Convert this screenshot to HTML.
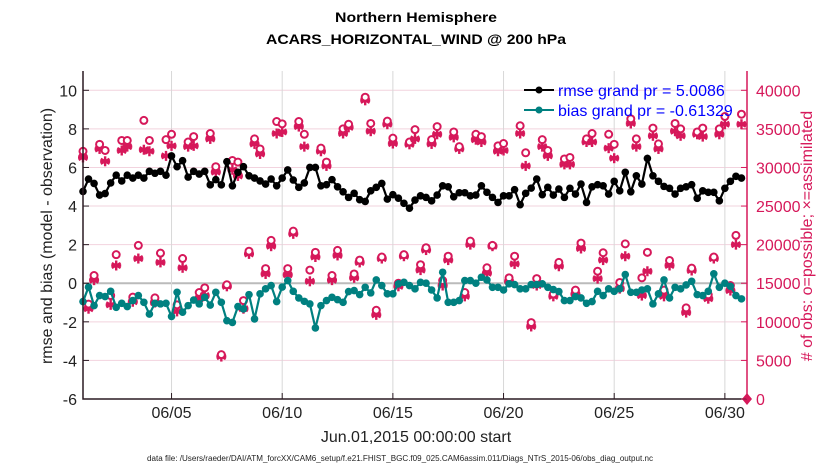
<!DOCTYPE html>
<html><head><meta charset="utf-8"><style>
body{margin:0;background:#fff}
svg{display:block;font-family:"Liberation Sans",sans-serif}
</style></head><body>
<svg id="chart" width="830" height="470" viewBox="0 0 830 470" xmlns="http://www.w3.org/2000/svg">
<g id="grid"></g>
<g id="marks"></g>
<g id="axes"></g>
<text x="416" y="22" text-anchor="middle" font-size="14" font-weight="bold" textLength="162" lengthAdjust="spacingAndGlyphs">Northern Hemisphere</text>
<text x="416" y="44" text-anchor="middle" font-size="14" font-weight="bold" textLength="300" lengthAdjust="spacingAndGlyphs">ACARS_HORIZONTAL_WIND @ 200 hPa</text>
<text x="416" y="442" text-anchor="middle" font-size="16" fill="#222">Jun.01,2015 00:00:00 start</text>
<text x="400" y="461" text-anchor="middle" font-size="8" fill="#222" textLength="506" lengthAdjust="spacingAndGlyphs">data file: /Users/raeder/DAI/ATM_forcXX/CAM6_setup/f.e21.FHIST_BGC.f09_025.CAM6assim.011/Diags_NTrS_2015-06/obs_diag_output.nc</text>
<text transform="translate(52,236) rotate(-90)" text-anchor="middle" font-size="16" fill="#222">rmse and bias (model - observation)</text>
<text transform="translate(812,236) rotate(-90)" text-anchor="middle" font-size="16" fill="#d6185a">#  of obs: o=possible; ×=assimilated</text>
<g>
<line x1="524" y1="90" x2="554" y2="90" stroke="#000" stroke-width="2"/><circle cx="539" cy="90" r="3.5" fill="#000"/>
<text x="558" y="96" font-size="16" fill="#0000ff">rmse grand pr = 5.0086</text>
<line x1="524" y1="110" x2="554" y2="110" stroke="#008080" stroke-width="2"/><circle cx="539" cy="110" r="3.5" fill="#008080"/>
<text x="558" y="116" font-size="16" fill="#0000ff">bias grand pr = -0.61329</text>
</g>
</svg>
<script>
const rmse=[4.76,5.4,5.17,4.57,4.65,5.2,5.6,5.3,5.6,5.45,5.6,5.45,5.8,5.7,5.8,5.6,6.6,6.04,6.35,5.5,5.8,5.66,5.8,5.1,5.37,5.1,6.3,5.05,5.75,6.04,5.57,5.45,5.3,5.14,5.4,5.05,5.45,5.87,5.35,4.97,5.2,6.0,6.0,
5.05,5.11,5.37,5.0,4.74,4.45,4.66,4.33,4.24,4.79,4.97,5.17,4.36,4.59,4.41,4.14,3.89,4.31,4.53,4.45,4.27,4.57,5.05,5.0,4.48,4.69,4.69,4.53,4.57,5.05,4.71,4.45,4.19,4.53,4.53,4.85,4.07,4.66,4.93,5.4,4.59,4.97,
4.57,4.88,4.45,4.92,4.62,5.14,4.19,5.0,5.11,5.05,4.62,5.28,4.79,5.75,4.74,5.57,5.14,6.47,5.57,5.28,5.02,4.92,4.62,4.92,5.0,5.11,4.4,4.79,4.71,4.71,4.27,4.92,5.28,5.54,5.45];
const bias=[-0.95,-0.2,-1.16,-0.64,-0.69,-0.42,-1.25,-1.04,-1.21,-0.9,-0.64,-0.99,-1.6,-1.04,-1.07,-1.04,-1.72,-0.47,-1.5,-1.16,-0.87,-1.07,-0.73,-1.13,-0.47,-0.99,-1.94,-2.03,-1.21,-1.33,-0.59,-1.85,-0.55,-0.29,-0.12,-0.95,-0.2,0.14,-0.42,-0.76,-0.94,-1.07,-2.32,
-1.16,-0.9,-0.73,-0.85,-0.99,-0.43,-0.38,-0.59,-0.21,-0.5,0.17,-0.12,-0.55,-0.55,-0.03,0.05,-0.12,-0.29,0.05,0,-0.35,-0.76,0.57,-0.99,-0.99,-0.9,0.14,0.14,0,0.31,0.17,-0.21,-0.21,-0.35,-0.03,-0.07,-0.29,-0.29,-0.07,-0.07,-0.03,-0.21,
-0.33,-0.43,-0.9,-0.9,-0.69,-0.76,-1.04,-0.95,-0.42,-0.64,-0.29,-0.42,-0.29,0.45,-0.47,-0.47,-0.35,-0.29,-1.07,-0.55,0.17,-0.76,-0.21,-0.29,-0.09,0.1,-0.59,-0.64,-0.42,0.49,-0.21,0,-0.16,-0.64,-0.81];
const possible=[32100,12300,16000,33000,32200,13400,18700,33500,33500,13200,19900,36100,33500,13100,18900,33600,34300,12200,18200,33300,34000,13800,14400,34400,30100,5750,14800,30900,30700,12750,19150,33700,32400,16900,20550,35950,35650,16900,21750,35950,34300,16700,19000,32500,30700,16000,19250,35000,35600,16200,18000,39100,35700,11500,18400,36000,33800,15000,18700,33300,34900,17400,19600,33600,35300,15350,18500,34600,32700,13800,20450,34300,34000,17000,19900,32800,33100,15700,18500,35400,31900,9900,15600,33600,32200,13600,17700,31100,31300,14100,20200,33700,34400,16550,18950,34300,33000,15100,20100,36300,33700,15700,19000,35100,33050,14100,17950,35700,35000,11800,16950,34600,35100,13500,18400,35000,36600,14700,21200,36900];
const assimilated=[31300,11700,15400,32400,30800,12200,17300,32200,32700,12600,18200,32300,32100,12500,17700,31500,32800,11350,17000,32700,32800,13000,13400,33700,29400,5500,14600,29700,28900,11700,18800,33050,31750,16200,19800,34400,34600,16100,21400,35300,32700,15250,18400,32100,30200,15400,18600,34400,35200,15700,17700,38700,34700,10900,18200,35600,33100,14600,18500,33000,33700,16700,19300,33050,34300,14700,18000,33900,32400,13300,20000,33600,33300,16300,19800,32100,32200,15250,17500,34400,30200,9400,14700,32700,31500,13300,17200,30400,30400,13600,19500,33300,33300,15600,18000,32500,31200,14300,18500,35700,32700,13400,16550,34100,32400,13300,17300,34700,34100,11200,16650,34300,34000,13000,18200,34300,35600,14050,20000,35600];
const leftTicks=[-6,-4,-2,0,2,4,6,8,10];
const rightTicks=[0,5000,10000,15000,20000,25000,30000,35000,40000];
const xTickDays=[4,9,14,19,24,29];
const xTickLabels=["06/05","06/10","06/15","06/20","06/25","06/30"];
const stepDays=0.25;

const L=83,R=747,T=71,B=399;
const X=d=>L+(d/30)*(R-L);
const Y=v=>B-(v+6)/17*(B-T);
const YR=c=>B-(c/42500)*(B-T);
const NS="http://www.w3.org/2000/svg";
function mk(tag,parent,attrs){const e=document.createElementNS(NS,tag);for(const k in attrs)e.setAttribute(k,attrs[k]);parent.appendChild(e);return e;}
const grid=document.getElementById('grid'),marks=document.getElementById('marks'),axes=document.getElementById('axes');
const CR="#d6185a";

leftTicks.forEach(v=>{if(v>-6){const g=mk('line',grid,{x1:L,x2:R,y1:Y(v),y2:Y(v),stroke:v===0?"#bbb":"#f2d3de","stroke-width":v===0?2:1});

}});
xTickDays.forEach(d=>{const g=mk('line',grid,{x1:X(d),x2:X(d),y1:T,y2:B,stroke:"#d8d8d8","stroke-width":1});

});

function star(cx,cy,parent){const s=5,g=mk('g',parent,{stroke:CR,"stroke-width":2.4});
[[0,s],[s*0.87,s*0.5],[s*0.87,-s*0.5],[s,0]].forEach(([dx,dy])=>mk('line',g,{x1:cx-dx,y1:cy-dy,x2:cx+dx,y2:cy+dy}));return g;}
possible.forEach((c,i)=>{const cx=X(i*stepDays);
const s=star(cx,YR(assimilated[i]),marks);


const o=mk('circle',marks,{cx:cx,cy:YR(c),r:3.5,fill:"#fff",stroke:CR,"stroke-width":2});

});
const dm=mk('path',marks,{d:`M${X(30)},${YR(0)-6}l5,6l-5,6l-5,-6z`,fill:CR});



function series(vals,col,name){const p=mk('polyline',marks,{points:vals.map((v,i)=>X(i*stepDays)+","+Y(v)).join(" "),fill:"none",stroke:col,"stroke-width":2.2});


vals.forEach((v,i)=>{const c=mk('circle',marks,{cx:X(i*stepDays),cy:Y(v),r:3.8,fill:col});

});}
series(bias,"#008080","bias");
series(rmse,"#000","rmse");

const ax=mk('path',axes,{d:`M${L},${T}V${B}H${R}`,fill:"none",stroke:"#2a1a22","stroke-width":1.5});


const ra=mk('line',axes,{x1:R,x2:R,y1:T,y2:B,stroke:CR,"stroke-width":1.5});


leftTicks.forEach(v=>{mk('line',axes,{x1:L,x2:L+6,y1:Y(v),y2:Y(v),stroke:"#2a1a22"});
const t=mk('text',axes,{x:L-6,y:Y(v)+6,"text-anchor":"end","font-size":16,fill:"#222"});t.textContent=v;

});
rightTicks.forEach(c=>{mk('line',axes,{x1:R-6,x2:R,y1:YR(c),y2:YR(c),stroke:CR});
const t=mk('text',axes,{x:R+9,y:YR(c)+6,"font-size":16,fill:CR});t.textContent=c;

});
xTickDays.forEach((d,k)=>{mk('line',axes,{x1:X(d),x2:X(d),y1:B-6,y2:B,stroke:"#2a1a22"});
const t=mk('text',axes,{x:X(d),y:B+19,"text-anchor":"middle","font-size":16,fill:"#222"});t.textContent=xTickLabels[k];

});
</script>
</body></html>
